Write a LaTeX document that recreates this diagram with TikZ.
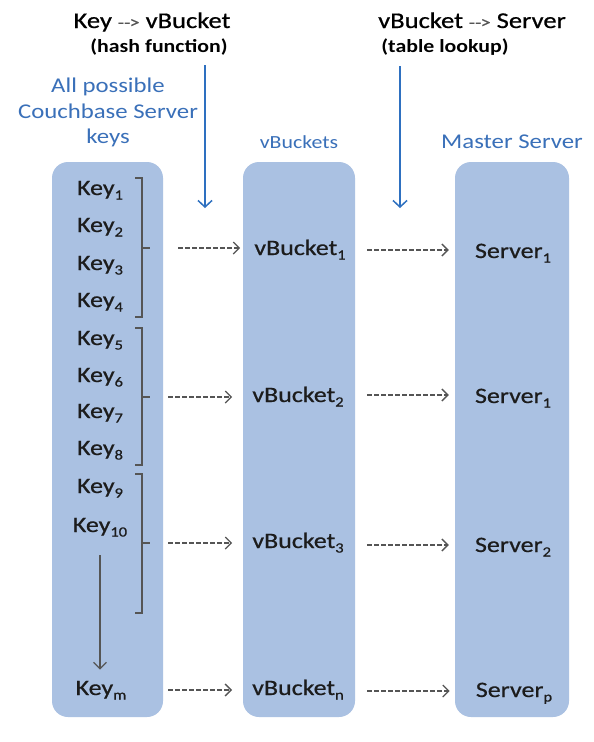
\documentclass[tikz,border=0pt]{standalone}
\usepackage{fontspec}
\setmainfont{Carlito}
\newfontfamily\heavyfont[FakeBold=0.6]{Carlito}
\usepackage{graphicx}
\usetikzlibrary{arrows.meta}
\definecolor{colfill}{RGB}{170,193,226}
\definecolor{txtblue}{RGB}{58,112,185}
\definecolor{arrblue}{RGB}{46,112,192}
\definecolor{dgray}{RGB}{85,85,85}
\definecolor{lblc}{RGB}{28,28,28}
\newcommand{\sx}[1]{\scalebox{1.18}[1]{#1}}
\newcommand{\sbs}[1]{\raisebox{-4.5pt}{\fontsize{14}{14}\selectfont #1}}
\newcommand{\harr}{{\color{dgray}\fontsize{17}{17}\selectfont -{}-\kern-0.5pt>}}
\begin{document}
\begin{tikzpicture}[x=1pt,y=-1pt,
  colbox/.style={fill=colfill, rounded corners=16pt, minimum height=555pt, inner sep=0pt},
  lbl/.style={font=\heavyfont\fontsize{22}{24}\selectfont, text=lblc, inner sep=0pt, anchor=base},
  hdr/.style={font=\heavyfont\fontsize{22.5}{24}\selectfont, text=black, inner sep=0pt, anchor=base},
  hsub/.style={font=\bfseries\fontsize{18.5}{22}\selectfont, text=black, inner sep=0pt, anchor=base},
  btxt/.style={font=\fontsize{21}{24}\selectfont, text=txtblue, inner sep=0pt, anchor=base},
  darr/.style={draw=dgray, line width=1.2pt, dash pattern=on 4.5pt off 2.5pt, -{Straight Barb[length=6pt,width=12pt,line width=1.3pt]}},
  barr/.style={draw=arrblue, line width=1.5pt, -{Straight Barb[length=6.5pt,width=14pt,line width=1.5pt]}},
  garr/.style={draw=dgray, line width=1.3pt, -{Straight Barb[length=6.5pt,width=13pt,line width=1.3pt]}},
  brk/.style={draw=dgray, line width=1.3pt},
]
\useasboundingbox (0,0) rectangle (594,742);
\fill[white] (0,0) rectangle (594,742);

% columns
\node[colbox, minimum width=111pt] (col1) at (107.5,439.5) {};
\node[colbox, minimum width=112pt] (col2) at (299,439.5) {};
\node[colbox, minimum width=114pt] (col3) at (512,439.5) {};

% headers
\node[hdr] (h1) at (152,28) {\sx{Key \harr{} vBucket}};
\node[hsub] (h1s) at (159,52) {\sx{(hash function)}};
\node[hdr] (h2) at (472,28) {\sx{vBucket \harr{} Server}};
\node[hsub] (h2s) at (445,52) {\sx{(table lookup)}};

\node[btxt] (t1) at (108,92) {\sx{All possible}};
\node[btxt] (t2) at (108,118) {\sx{Couchbase Server}};
\node[btxt] (t3) at (108,143) {\sx{keys}};
\node[btxt, font=\fontsize{18.5}{22}\selectfont] (t4) at (299,148) {\sx{vBuckets}};
\node[btxt] (t5) at (512,148) {\sx{Master Server}};

% blue arrows
\coordinate (ba1) at (205,65);
\coordinate (ba1e) at (205,208);
\coordinate (ba2) at (400,66);
\coordinate (ba2e) at (400,208);
\draw[barr] (ba1) -- (ba1e);
\draw[barr] (ba2) -- (ba2e);

% keys
\node[lbl] (k1) at (100,195) {\sx{Key\sbs{1}}};
\node[lbl] (k2) at (100,232) {\sx{Key\sbs{2}}};
\node[lbl] (k3) at (100,270) {\sx{Key\sbs{3}}};
\node[lbl] (k4) at (100,307) {\sx{Key\sbs{4}}};
\node[lbl] (k5) at (100,345) {\sx{Key\sbs{5}}};
\node[lbl] (k6) at (100,382) {\sx{Key\sbs{6}}};
\node[lbl] (k7) at (100,418) {\sx{Key\sbs{7}}};
\node[lbl] (k8) at (100,455) {\sx{Key\sbs{8}}};
\node[lbl] (k9) at (100,493) {\sx{Key\sbs{9}}};
\node[lbl] (k10) at (100,532) {\sx{Key\sbs{10}}};
\node[lbl] (km) at (101,695) {\sx{Key\sbs{m}}};

% brackets
\draw[brk] (135,178) -- (142,178) -- (142,317) -- (135,317);
\draw[brk] (142,248) -- (150,248);
\draw[brk] (135,328) -- (142,328) -- (142,465) -- (135,465);
\draw[brk] (142,397) -- (150,397);
\draw[brk] (135,474) -- (142,474) -- (142,613) -- (135,613);
\draw[brk] (142,543) -- (150,543);

% vertical gray arrow
\coordinate (vt) at (100,555);
\draw[garr, shorten >=11pt] (vt) -- (vt |- km.north);

% vBuckets
\node[lbl] (vb1) at (300,255) {\sx{vBucket\sbs{1}}};
\node[lbl] (vb2) at (298,402) {\sx{vBucket\sbs{2}}};
\node[lbl] (vb3) at (298,548) {\sx{vBucket\sbs{3}}};
\node[lbl] (vbn) at (298,695) {\sx{vBucket\sbs{n}}};

% servers
\node[lbl] (s1) at (513,258) {\sx{Server\sbs{1}}};
\node[lbl] (s2) at (513,403) {\sx{Server\sbs{1}}};
\node[lbl] (s3) at (513,552) {\sx{Server\sbs{2}}};
\node[lbl] (sp) at (514,697) {\sx{Server\sbs{p}}};

% left dashed arrows
\coordinate (d1) at (178,248);
\coordinate (d2) at (168,397);
\coordinate (d3) at (168,543);
\coordinate (d4) at (168,690);
\draw[darr, shorten >=14pt] (d1) -- (d1 -| vb1.west);
\draw[darr, shorten >=20pt] (d2) -- (d2 -| vb2.west);
\draw[darr, shorten >=20pt] (d3) -- (d3 -| vb3.west);
\draw[darr, shorten >=20pt] (d4) -- (d4 -| vbn.west);

% right dashed arrows
\coordinate (e1) at (367,250);
\coordinate (e2) at (367,395);
\coordinate (e3) at (367,545);
\coordinate (e4) at (367,691);
\draw[darr, shorten >=26pt] (e1) -- (e1 -| s1.west);
\draw[darr, shorten >=26pt] (e2) -- (e2 -| s2.west);
\draw[darr, shorten >=26pt] (e3) -- (e3 -| s3.west);
\draw[darr, shorten >=26pt] (e4) -- (e4 -| sp.west);
\end{tikzpicture}
\end{document}
